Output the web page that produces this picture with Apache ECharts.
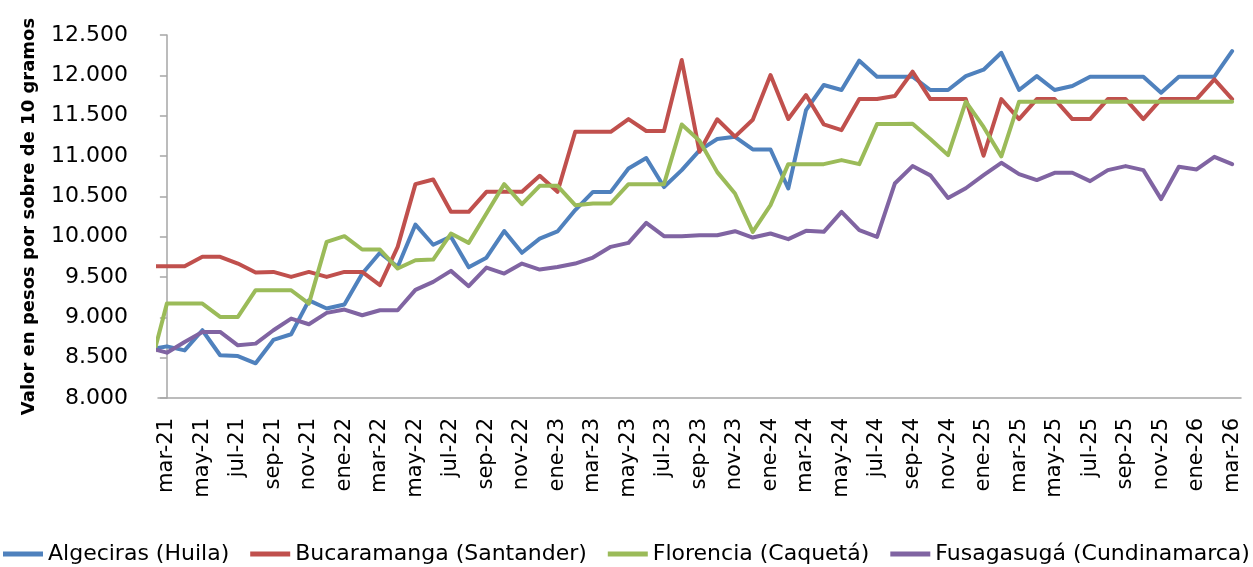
<!DOCTYPE html>
<html>
<head>
<meta charset="utf-8">
<script src="https://cdn.jsdelivr.net/npm/echarts@6/dist/echarts.min.js"></script>
<style>
html,body{margin:0;padding:0;background:#fff;}
#chart{width:1253px;height:567px;}
</style>
</head>
<body>
<div id="chart"></div>
<script>
// Months (first entry feb-21 lies just left of the axis and is clipped)
const months = ['feb-21','mar-21','abr-21','may-21','jun-21','jul-21','ago-21','sep-21','oct-21','nov-21','dic-21',
'ene-22','feb-22','mar-22','abr-22','may-22','jun-22','jul-22','ago-22','sep-22','oct-22','nov-22','dic-22',
'ene-23','feb-23','mar-23','abr-23','may-23','jun-23','jul-23','ago-23','sep-23','oct-23','nov-23','dic-23',
'ene-24','feb-24','mar-24','abr-24','may-24','jun-24','jul-24','ago-24','sep-24','oct-24','nov-24','dic-24',
'ene-25','feb-25','mar-25','abr-25','may-25','jun-25','jul-25','ago-25','sep-25','oct-25','nov-25','dic-25',
'ene-26','feb-26','mar-26'];

const algeciras = [8600,
8640,8590,8840,8530,8520,8430,8720,8790,9210,9110,9160,9540,9800,9625,10150,9900,10000,9620,9740,10070,
9800,9975,10065,10330,10555,10555,10845,10975,10615,10825,11070,11210,11238,11081,11081,10597,11569,11880,11818,12182,
11983,11983,11983,11818,11818,11990,12070,12280,11818,11991,11818,11868,11983,11983,11983,11983,11785,11983,11983,11983,12300];

const bucaramanga = [9634,
9634,9634,9750,9750,9667,9555,9563,9501,9563,9501,9563,9563,9400,9874,10651,10709,10308,10308,10556,10556,
10556,10755,10556,11300,11300,11300,11458,11310,11310,12190,11052,11455,11240,11450,12004,11458,11756,11392,11321,11706,
11706,11743,12045,11706,11706,11706,11003,11706,11458,11706,11706,11458,11458,11706,11706,11458,11706,11706,11706,11950,11706];

const florencia = [8330,
9170,9170,9170,9005,9005,9336,9336,9336,9170,9936,10006,9841,9841,9605,9708,9716,10039,9923,10287,10651,
10403,10630,10630,10390,10411,10411,10651,10651,10651,11390,11190,10800,10535,10060,10391,10899,10899,10899,10949,10899,
11396,11396,11400,11210,11011,11673,11360,10995,11673,11673,11673,11673,11673,11673,11673,11673,11673,11673,11673,11673,11673];

const fusagasuga = [8620,
8562,8695,8819,8819,8653,8674,8840,8984,8914,9055,9096,9026,9088,9088,9340,9439,9576,9386,9617,9543,
9667,9592,9625,9667,9741,9874,9923,10170,10006,10006,10018,10018,10068,9989,10039,9969,10072,10060,10308,10080,
9998,10659,10875,10760,10480,10600,10763,10916,10775,10701,10792,10792,10688,10825,10875,10825,10465,10866,10833,10990,10899];

const seriesNames = ['Algeciras (Huila)','Bucaramanga (Santander)','Florencia (Caquetá)','Fusagasugá (Cundinamarca)'];
const seriesValues = [algeciras, bucaramanga, florencia, fusagasuga];
const colors = ['#4F81BD','#C0504D','#9BBB59','#8064A2'];
const yTicks = [8000,8500,9000,9500,10000,10500,11000,11500,12000,12500];

const labelPositions = [];
for (let i = 1; i < months.length; i += 2) labelPositions.push(i - 1);

function fmt(v){ return String(v).replace(/\B(?=(\d{3})+(?!\d))/g, '.'); }

const chart = echarts.init(document.getElementById('chart'), null, {renderer:'canvas'});
const FONT = 'DejaVu Sans';
chart.setOption({
  animation:false,
  backgroundColor:'#ffffff',
  color: colors,
  textStyle:{fontFamily:FONT},
  grid:{left:158, right:12, top:35, bottom:169, containLabel:false},
  legend:{
    bottom:2, left:3, width:1250, padding:0,
    icon:'rect', itemWidth:40, itemHeight:5, itemGap:21,
    textStyle:{fontFamily:FONT, fontSize:22, color:'#000'},
    data: seriesNames
  },
  xAxis:{
    type:'value', min:-0.5, max:60.5,
    splitLine:{show:false},
    axisLine:{show:true, lineStyle:{color:'#A6A6A6', width:1.5}},
    axisTick:{show:false},
    axisLabel:{
      customValues: labelPositions,
      rotate:90, margin:20,
      fontFamily:FONT, fontSize:21, color:'#000',
      formatter:function(v){ return months[Math.round(v)+1] || ''; }
    }
  },
  yAxis:{
    type:'value', min:yTicks[0], max:yTicks[yTicks.length-1], interval:500,
    name:'Valor en pesos por sobre de 10 gramos',
    nameLocation:'middle', nameGap:120, nameRotate:90,
    nameTextStyle:{fontFamily:FONT, fontSize:18, fontWeight:'bold', color:'#000'},
    splitLine:{show:false},
    axisLine:{show:true, lineStyle:{color:'#A6A6A6', width:1.5}},
    axisTick:{show:true, length:7, lineStyle:{color:'#A6A6A6', width:1.5}},
    axisLabel:{margin:30, fontFamily:FONT, fontSize:22, color:'#000', formatter:fmt}
  },
  series: seriesNames.map(function(name, k){
    return {
      name:name, type:'line', clip:true, showSymbol:false, smooth:false,
      lineStyle:{width:4, color:colors[k], join:'round', cap:'round'},
      itemStyle:{color:colors[k]},
      data: seriesValues[k].map(function(v, i){ return [i-1, v]; })
    };
  })
});
</script>
</body>
</html>
